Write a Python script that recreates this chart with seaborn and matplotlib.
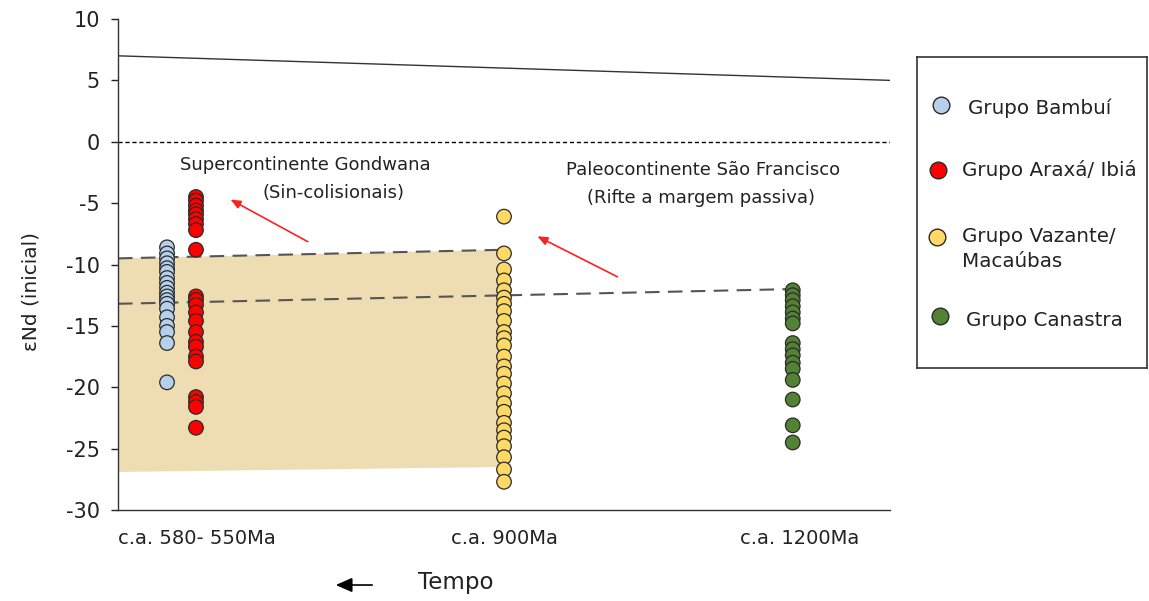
import numpy as np
import pandas as pd
import matplotlib
matplotlib.use("Agg")
import matplotlib.pyplot as plt
from matplotlib.lines import Line2D
from matplotlib.patches import Polygon, FancyArrowPatch
import seaborn as sns

# ---------------- data ----------------
groups = ["Grupo Bambuí", "Grupo Araxá/ Ibiá", "Grupo Vazante/\nMacaúbas", "Grupo Canastra"]
colors = ["#B6D0EB", "#FF0000", "#FFD966", "#548235"]

bambui = [-8.6, -9.1, -9.5, -9.9, -10.3, -10.6, -11.1, -11.5, -11.9, -12.3, -12.6,
          -12.9, -13.2, -13.6, -14.3, -15.0, -15.5, -16.4, -19.6]
araxa = [-4.5, -4.8, -5.2, -5.6, -5.9, -6.3, -6.7, -7.2, -8.8,
         -12.6, -12.9, -13.3, -13.9, -14.6, -15.5, -16.3, -16.7, -17.5, -17.9,
         -20.8, -21.2, -21.6, -23.3]
vazante = [-6.1, -9.1, -10.4, -11.3, -12.1, -12.7, -13.2, -13.8, -14.6, -15.5, -16.0,
           -16.6, -17.5, -18.3, -18.9, -19.7, -20.5, -21.3, -22.0, -22.9, -23.5,
           -24.1, -24.8, -25.7, -26.7, -27.7]
canastra = [-12.1, -12.5, -12.9, -13.4, -13.9, -14.4, -14.8, -16.4, -16.9, -17.4,
            -18.0, -18.5, -19.4, -21.0, -23.1, -24.5]

tick_labels = ["c.a. 580- 550Ma", "c.a. 900Ma", "c.a. 1200Ma"]

# reference lines (values at left / right end)
mantle_line = [7.0, 5.0]
upper_trend = [-9.5, -8.8]
lower_trend = [-13.2, -12.0]
band_top = [-9.5, -8.8]
band_bottom = [-26.9, -26.5]

# ---------------- layout constants ----------------
tick_pos = [10.2, 50.1, 88.3]
group_x = [6.35, 10.1, 50.0, 87.4]
band_x = [0.0, 49.5]
upper_x = [0.0, 50.0]
lower_x = [0.0, 87.5]
line_x = [0.0, 100.0]

values = [bambui, araxa, vazante, canastra]
df = pd.DataFrame({
    "grupo": np.concatenate([[g] * len(v) for g, v in zip(groups, values)]),
    "x": np.concatenate([[gx] * len(v) for gx, v in zip(group_x, values)]),
    "eNd": np.concatenate(values),
})

sns.set_style("ticks")
plt.rcParams["font.family"] = ["DejaVu Sans"]
plt.rcParams["axes.unicode_minus"] = False

fig = plt.figure(figsize=(11.49, 6.01), dpi=100)
ax = fig.add_axes([0.1027, 0.1514, 0.6719, 0.8170])

# band
poly = Polygon([[band_x[0], band_bottom[0]], [band_x[1], band_bottom[1]],
                [band_x[1], band_top[1]], [band_x[0], band_top[0]]],
               closed=True, facecolor="#EEDDB3", edgecolor="none", zorder=1)
ax.add_patch(poly)

ax.plot(line_x, mantle_line, color="#333333", lw=1.0, zorder=2)
ax.plot(line_x, [0, 0], color="black", lw=1.0, ls=(0, (3, 2)), zorder=2)
ax.plot(upper_x, upper_trend, color="#555555", lw=1.5, ls=(0, (7, 4)), zorder=2)
ax.plot(lower_x, lower_trend, color="#555555", lw=1.5, ls=(0, (7, 4)), zorder=2)

sns.scatterplot(data=df, x="x", y="eNd", hue="grupo", hue_order=groups,
                palette=colors, s=110, edgecolor="#2a2a2a", linewidth=0.9,
                legend=False, ax=ax, zorder=3)

ax.set_xlim(0, 100)
ax.set_ylim(-30, 10)
ax.set_yticks(np.arange(-30, 11, 5))
ax.set_xticks(tick_pos)
ax.set_xticklabels(tick_labels)
ax.tick_params(axis="x", length=0, pad=14, labelsize=14, colors="#222222")
ax.tick_params(axis="y", length=5, width=1, pad=8, labelsize=15, colors="#222222")
ax.set_xlabel("")
ax.set_ylabel("εNd (inicial)", fontsize=14.5, color="#222222")
ax.yaxis.set_label_coords(-0.101, 0.444)
for s in ["top", "right"]:
    ax.spines[s].set_visible(False)
for s in ["left", "bottom"]:
    ax.spines[s].set_color("#333333")
    ax.spines[s].set_linewidth(1.0)

# annotations
fs_ann = 13
ax.text(24.2, -1.9, "Supercontinente Gondwana", ha="center", va="center", fontsize=fs_ann, color="#222222")
ax.text(27.9, -4.2, "(Sin-colisionais)", ha="center", va="center", fontsize=fs_ann, color="#222222")
ax.text(75.8, -2.3, "Paleocontinente São Francisco", ha="center", va="center", fontsize=fs_ann, color="#222222")
ax.text(75.5, -4.6, "(Rifte a margem passiva)", ha="center", va="center", fontsize=fs_ann, color="#222222")
arrowprops = dict(arrowstyle="-|>,head_length=0.6,head_width=0.25", color="#FF2020", lw=1.2)
ax.annotate("", xy=(14.25, -4.6), xytext=(24.9, -8.25), arrowprops=arrowprops)
ax.annotate("", xy=(54.0, -7.6), xytext=(65.0, -11.1), arrowprops=arrowprops)

# Tempo arrow
fig.add_artist(FancyArrowPatch((0.3264, 0.0266), (0.2898, 0.0266),
               transform=fig.transFigure, arrowstyle="-|>,head_length=0.5,head_width=0.22",
               mutation_scale=20, color="black", lw=1.2))
fig.text(0.3638, 0.030, "Tempo", ha="left", va="center", fontsize=16.5, color="#222222")

# legend box
lax = fig.add_axes([0.798, 0.3877, 0.2002, 0.5175])
lax.set_xlim(0, 1)
lax.set_ylim(0, 1)
lax.set_xticks([])
lax.set_yticks([])
for s in lax.spines.values():
    s.set_visible(True)
    s.set_color("#333333")
    s.set_linewidth(1.2)
leg_marker = [(0.104, 0.846), (0.091, 0.637), (0.087, 0.421), (0.10, 0.167)]
leg_text = [(0.222, 0.836), (0.196, 0.637), (0.196, 0.383), (0.213, 0.154)]
for g, c, (mx, my), (tx, ty) in zip(groups, colors, leg_marker, leg_text):
    lax.add_line(Line2D([mx], [my], marker="o", markersize=12, markerfacecolor=c,
                        markeredgecolor="#2a2a2a", markeredgewidth=1.0, ls="none"))
    lax.text(tx, ty, g, ha="left", va="center", fontsize=14.3, color="#222222", linespacing=1.4)

fig.savefig("out.png", dpi=100, facecolor="white")
